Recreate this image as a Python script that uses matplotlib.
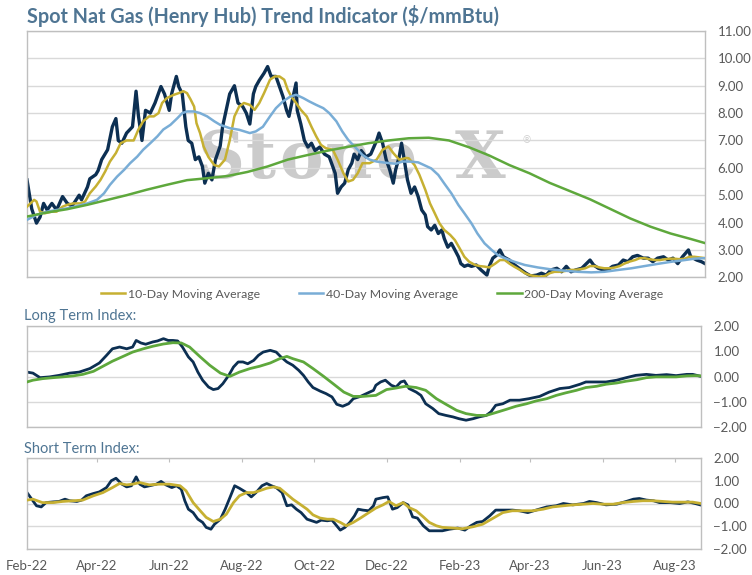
import matplotlib
matplotlib.use("Agg")
import matplotlib.pyplot as plt
import matplotlib.dates as mdates
from matplotlib.ticker import StrMethodFormatter, MultipleLocator
import pandas as pd

START = pd.Timestamp("2022-02-01")

# ---- spot price (day offset from 1 Feb 2022, $/mmBtu) ----
spot_day = [0, 4, 8, 11, 14, 17, 21, 25, 30, 34, 38, 44, 46, 51, 53, 58, 60, 63, 68, 72,
            75, 77, 80, 84, 89, 92, 94, 97, 100, 104, 108, 113, 116, 120, 122, 126, 128, 131, 134, 136,
            139, 142, 145, 148, 150, 153, 156, 159, 163, 165, 168, 171, 175, 178, 182, 185, 188, 191, 193, 196,
            200, 203, 206, 210, 213, 216, 219, 221, 224, 227, 228, 231, 234, 237, 240, 243, 247, 251, 255, 260,
            262, 265, 268, 271, 274, 276, 279, 282, 286, 290, 295, 297, 300, 303, 306, 309, 311, 314, 316, 321,
            324, 327, 330, 333, 336, 338, 341, 344, 347, 350, 352, 355, 358, 361, 364, 366, 369, 372, 375, 379,
            383, 388, 390, 393, 396, 399, 402, 404, 407, 410, 413, 417, 421, 425, 430, 434, 438, 442, 447, 451,
            455, 459, 463, 468, 472, 475, 478, 482, 486, 490, 494, 499, 503, 507, 511, 515, 520, 524, 528, 532,
            537, 541, 545, 549, 553, 558, 560, 565, 569, 572]
spot_val = [5.56, 4.5, 3.98, 4.2, 4.7, 4.46, 4.7, 4.46, 4.95, 4.7, 4.6, 5.0, 4.83, 5.3, 5.6, 5.75, 5.9, 6.3, 6.66, 7.5,
            7.8, 7.0, 6.9, 7.27, 7.5, 8.8, 7.9, 7.0, 8.1, 8.0, 8.37, 8.97, 8.7, 8.1, 8.7, 9.34, 8.97, 8.7, 7.5, 7.0,
            6.9, 6.3, 6.4, 6.05, 5.44, 5.8, 5.56, 6.3, 6.8, 7.5, 8.1, 8.7, 9.0, 8.37, 8.24, 8.0, 7.6, 8.7, 8.97, 9.2,
            9.46, 9.7, 9.34, 9.34, 8.97, 8.6, 8.1, 7.88, 8.5, 9.1, 8.1, 7.6, 7.0, 6.76, 6.9, 6.63, 6.76, 6.5, 6.4, 5.8,
            5.07, 5.3, 5.44, 5.93, 6.17, 6.5, 6.3, 6.63, 6.4, 6.5, 7.0, 7.27, 6.9, 6.3, 5.93, 5.44, 5.93, 6.4, 6.9, 5.56,
            5.07, 5.3, 4.95, 4.46, 4.28, 3.85, 3.73, 3.9, 3.6, 3.73, 3.42, 3.1, 3.24, 3.0, 2.75, 2.5, 2.4, 2.45, 2.4, 2.45,
            2.27, 2.08, 2.4, 2.7, 2.8, 3.0, 2.75, 2.7, 2.63, 2.5, 2.4, 2.27, 2.15, 2.05, 2.08, 2.15, 2.08, 2.27, 2.33, 2.2,
            2.4, 2.2, 2.27, 2.33, 2.5, 2.63, 2.45, 2.33, 2.27, 2.27, 2.4, 2.45, 2.63, 2.57, 2.75, 2.8, 2.7, 2.7, 2.57, 2.7,
            2.75, 2.63, 2.7, 2.5, 2.75, 3.0, 2.75, 2.63, 2.57, 2.5]

# ---- 10-day moving average ----
ma10_day = [0, 6, 8, 11, 15, 21, 25, 30, 34, 39, 45, 49, 53, 58, 62, 66, 70, 75, 79, 84,
            90, 94, 98, 103, 107, 111, 114, 118, 124, 128, 132, 135, 138, 141, 143, 146, 149, 153, 158, 162,
            167, 171, 175, 179, 183, 188, 192, 196, 200, 205, 209, 213, 217, 220, 223, 227, 231, 236, 240, 244,
            248, 252, 258, 262, 267, 271, 275, 279, 283, 289, 295, 300, 305, 309, 314, 320, 322, 327, 331, 336,
            340, 344, 348, 352, 357, 361, 365, 369, 373, 378, 382, 386, 390, 395, 399, 403, 407, 411, 416, 420,
            424, 428, 433, 437, 441, 445, 449, 454, 458, 462, 466, 471, 475, 479, 483, 487, 492, 496, 500, 504,
            508, 513, 517, 521, 525, 530, 534, 538, 542, 546, 551, 555, 559, 563, 568, 572]
ma10_val = [4.58, 4.83, 4.77, 4.4, 4.34, 4.4, 4.4, 4.58, 4.65, 4.7, 4.7, 4.77, 5.07, 5.32, 5.56, 5.87, 6.23, 6.54, 6.9, 7.0,
            7.0, 7.4, 7.7, 7.88, 7.88, 8.0, 8.37, 8.55, 8.67, 8.73, 8.8, 8.73, 8.5, 8.24, 7.63, 7.27, 6.78, 6.4, 6.1, 6.05,
            6.3, 7.0, 7.88, 8.24, 8.37, 8.3, 8.12, 8.37, 8.73, 9.22, 9.34, 9.34, 9.22, 8.85, 8.6, 8.37, 8.12, 7.88, 7.5, 7.15,
            6.84, 6.72, 6.66, 6.3, 5.8, 5.5, 5.56, 5.8, 6.17, 6.17, 6.3, 6.66, 6.78, 6.54, 6.3, 6.36, 6.35, 6.1, 5.75, 5.2,
            4.7, 4.34, 3.97, 3.73, 3.55, 3.36, 3.06, 2.75, 2.57, 2.45, 2.41, 2.39, 2.36, 2.5, 2.63, 2.63, 2.5, 2.39, 2.27, 2.15,
            2.08, 2.05, 2.02, 2.05, 2.15, 2.2, 2.2, 2.23, 2.27, 2.27, 2.29, 2.33, 2.41, 2.41, 2.36, 2.33, 2.33, 2.36, 2.41, 2.5,
            2.57, 2.63, 2.7, 2.7, 2.66, 2.63, 2.63, 2.66, 2.68, 2.68, 2.66, 2.68, 2.75, 2.75, 2.72, 2.7]

# ---- 40-day moving average ----
ma40_day = [0, 8, 17, 25, 34, 42, 51, 59, 65, 70, 76, 82, 87, 93, 98, 104, 110, 115, 121, 127,
            131, 135, 141, 146, 152, 158, 163, 171, 179, 188, 193, 199, 205, 210, 216, 222, 227, 233, 238, 244,
            250, 255, 261, 266, 271, 275, 279, 283, 289, 295, 300, 306, 311, 317, 323, 330, 341, 347, 352, 358,
            364, 369, 375, 380, 386, 392, 397, 403, 411, 420, 431, 442, 454, 465, 476, 487, 499, 510, 521, 532,
            544, 555, 563, 572]
ma40_val = [4.1, 4.28, 4.4, 4.46, 4.52, 4.6, 4.7, 4.83, 5.07, 5.38, 5.68, 5.93, 6.17, 6.41, 6.66, 6.9, 7.15, 7.4, 7.57, 7.82,
            8.0, 8.06, 8.06, 8.0, 7.88, 7.7, 7.57, 7.45, 7.39, 7.27, 7.33, 7.5, 7.88, 8.18, 8.43, 8.6, 8.67, 8.55, 8.43, 8.3,
            8.18, 8.0, 7.7, 7.33, 7.02, 6.84, 6.66, 6.47, 6.3, 6.23, 6.2, 6.17, 6.15, 6.23, 6.23, 6.2, 5.98, 5.74, 5.43, 5.07,
            4.64, 4.34, 3.97, 3.6, 3.24, 3.0, 2.82, 2.7, 2.57, 2.45, 2.36, 2.29, 2.24, 2.2, 2.18, 2.2, 2.27, 2.33, 2.41, 2.49,
            2.57, 2.63, 2.68, 2.7]

# ---- 200-day moving average ----
ma200_day = [0, 17, 34, 51, 68, 84, 101, 118, 135, 152, 169, 186, 203, 220, 237, 254, 271, 288, 305, 322,
             339, 356, 373, 390, 407, 424, 441, 458, 475, 492, 509, 526, 543, 560, 572]
ma200_val = [4.22, 4.37, 4.49, 4.65, 4.83, 5.0, 5.2, 5.38, 5.55, 5.62, 5.7, 5.85, 6.05, 6.3, 6.47, 6.63, 6.77, 6.9, 7.0, 7.08,
             7.1, 7.0, 6.75, 6.45, 6.1, 5.8, 5.45, 5.15, 4.85, 4.5, 4.15, 3.85, 3.6, 3.4, 3.25]

# ---- long term index ----
lt_day = [0, 5, 11, 19, 27, 36, 44, 53, 61, 67, 72, 78, 84, 89, 92, 96, 100, 106, 110, 115,
          119, 123, 127, 131, 136, 140, 144, 148, 153, 157, 161, 165, 170, 174, 178, 182, 186, 191, 195, 199,
          205, 210, 214, 219, 224, 229, 233, 237, 241, 247, 252, 257, 261, 266, 271, 275, 281, 286, 292, 294,
          298, 302, 307, 311, 315, 318, 322, 328, 332, 336, 342, 347, 353, 359, 364, 370, 376, 381, 387, 391,
          395, 401, 407, 415, 423, 432, 440, 449, 457, 466, 471, 480, 488, 497, 505, 513, 522, 530, 539, 547,
          556, 561, 568]
lt_val = [0.18, 0.14, -0.04, -0.01, 0.05, 0.14, 0.18, 0.32, 0.54, 0.84, 1.1, 1.17, 1.1, 1.17, 1.43, 1.33, 1.28, 1.37, 1.41, 1.5,
          1.43, 1.43, 1.41, 1.17, 0.78, 0.58, 0.18, -0.14, -0.41, -0.51, -0.47, -0.28, 0.05, 0.38, 0.58, 0.58, 0.51, 0.64, 0.84, 0.97,
          1.04, 0.97, 0.78, 0.58, 0.45, 0.25, 0.05, -0.21, -0.43, -0.57, -0.67, -0.8, -1.09, -1.17, -1.07, -0.87, -0.78, -0.67, -0.54, -0.34,
          -0.21, -0.14, -0.34, -0.41, -0.21, -0.17, -0.47, -0.61, -0.74, -1.07, -1.26, -1.46, -1.53, -1.59, -1.66, -1.72, -1.66, -1.59, -1.53, -1.39,
          -1.13, -1.07, -0.93, -0.93, -0.87, -0.78, -0.61, -0.47, -0.43, -0.3, -0.21, -0.21, -0.21, -0.14, -0.04, 0.05, 0.09, 0.05, 0.08, 0.04,
          0.09, 0.09, 0.01]
lt_sig_day = [0, 5, 13, 22, 30, 39, 47, 56, 64, 72, 81, 89, 98, 106, 115, 123, 130, 137, 146, 154,
              163, 171, 179, 188, 196, 205, 213, 219, 224, 233, 241, 250, 258, 267, 275, 283, 294, 303, 311, 319,
              328, 336, 345, 353, 362, 370, 379, 387, 395, 404, 412, 421, 429, 438, 446, 454, 463, 471, 480, 488,
              497, 505, 514, 522, 530, 539, 547, 556, 563, 568]
lt_sig_val = [-0.21, -0.14, -0.08, -0.04, -0.01, 0.03, 0.09, 0.21, 0.41, 0.61, 0.8, 0.97, 1.1, 1.2, 1.29, 1.34, 1.33, 1.17, 0.78, 0.45,
              0.14, 0.01, 0.18, 0.32, 0.41, 0.54, 0.71, 0.8, 0.71, 0.58, 0.32, 0.01, -0.28, -0.61, -0.78, -0.78, -0.74, -0.51, -0.45, -0.38,
              -0.43, -0.54, -0.87, -1.09, -1.33, -1.46, -1.53, -1.53, -1.42, -1.29, -1.17, -1.07, -0.96, -0.87, -0.74, -0.64, -0.54, -0.43, -0.38, -0.3,
              -0.25, -0.18, -0.12, -0.04, -0.01, -0.01, -0.01, 0.03, 0.04, 0.03]

# ---- short term index ----
st_day = [0, 4, 8, 12, 16, 22, 27, 32, 36, 42, 46, 50, 56, 61, 67, 71, 75, 80, 84, 88,
          92, 95, 99, 105, 109, 113, 117, 122, 126, 130, 133, 136, 140, 144, 148, 151, 155, 158, 163, 167,
          171, 175, 179, 185, 189, 193, 198, 202, 206, 210, 215, 219, 223, 227, 231, 236, 240, 244, 248, 253,
          257, 261, 264, 268, 272, 276, 279, 283, 288, 292, 294, 300, 304, 308, 312, 317, 321, 325, 329, 334,
          339, 345, 350, 356, 363, 369, 374, 379, 384, 390, 395, 401, 409, 415, 422, 429, 438, 446, 452, 460,
          469, 474, 480, 488, 497, 505, 511, 516, 522, 528, 533, 542, 550, 557, 563, 568]
st_val = [0.48, 0.19, -0.1, -0.15, 0.04, 0.07, 0.09, 0.19, 0.12, 0.09, 0.15, 0.34, 0.44, 0.51, 0.7, 1.0, 1.11, 0.85, 0.73, 0.78,
          1.17, 0.85, 0.73, 0.8, 0.85, 0.97, 0.82, 0.7, 0.78, 0.63, 0.12, -0.25, -0.4, -0.69, -0.83, -1.05, -1.13, -0.91, -0.69, -0.25,
          0.26, 0.78, 0.67, 0.48, 0.29, 0.48, 0.78, 0.88, 0.78, 0.7, 0.48, -0.1, -0.06, -0.25, -0.4, -0.69, -0.76, -0.83, -0.73, -0.76,
          -0.73, -0.98, -1.17, -1.05, -0.83, -0.54, -0.25, -0.29, -0.32, -0.1, 0.19, 0.26, 0.29, -0.25, -0.18, 0.04, -0.06, -0.59, -0.64, -0.98,
          -1.2, -1.2, -1.2, -1.13, -1.08, -1.17, -0.98, -0.83, -0.79, -0.54, -0.29, -0.29, -0.29, -0.32, -0.4, -0.29, -0.15, -0.1, 0.0, -0.06,
          0.0, 0.09, 0.04, -0.06, -0.03, 0.09, 0.19, 0.22, 0.15, 0.12, 0.04, 0.04, 0.0, 0.07, 0.0, -0.07]
st_sig_day = [0, 5, 13, 22, 30, 39, 47, 56, 64, 72, 78, 84, 89, 95, 103, 112, 120, 129, 134, 140,
              146, 151, 157, 163, 168, 174, 179, 185, 191, 196, 202, 208, 213, 219, 224, 230, 236, 241, 247, 253,
              258, 264, 269, 275, 281, 286, 294, 300, 305, 311, 317, 322, 328, 334, 339, 345, 350, 359, 367, 376,
              384, 393, 401, 409, 418, 426, 435, 443, 452, 460, 469, 477, 485, 494, 502, 511, 519, 528, 536, 544,
              553, 561, 568]
st_sig_val = [0.15, 0.19, 0.04, 0.04, 0.09, 0.12, 0.15, 0.34, 0.48, 0.7, 0.88, 0.82, 0.85, 0.92, 0.82, 0.85, 0.85, 0.78, 0.56, 0.04,
              -0.32, -0.61, -0.79, -0.69, -0.47, 0.04, 0.34, 0.48, 0.48, 0.56, 0.67, 0.73, 0.67, 0.41, 0.19, -0.03, -0.25, -0.5, -0.64, -0.69,
              -0.69, -0.83, -0.98, -0.83, -0.64, -0.47, -0.2, -0.06, 0.09, -0.1, 0.04, -0.18, -0.32, -0.59, -0.83, -0.98, -1.05, -1.08, -1.11, -1.02,
              -0.91, -0.64, -0.4, -0.32, -0.32, -0.32, -0.25, -0.15, -0.1, -0.06, -0.03, 0.0, -0.03, -0.03, 0.04, 0.09, 0.12, 0.12, 0.09, 0.06,
              0.06, 0.06, 0.0]

legend_labels = ["10-Day Moving Average", "40-Day Moving Average", "200-Day Moving Average"]
title = "Spot Nat Gas (Henry Hub) Trend Indicator ($/mmBtu)"

NAVY = "#0c2f52"
GOLD = "#c6b032"
BLUE = "#79add6"
GREEN = "#5ea83c"
GRID = "#d9d9d9"
FRAME = "#bfbfbf"
TXT = "#595959"
HEAD = "#4f7593"

plt.rcParams["font.family"] = ["Lato", "DejaVu Sans"]


def dates(days):
    return START + pd.to_timedelta(days, unit="D")


W, H = 752, 575
fig = plt.figure(figsize=(W / 100, H / 100), dpi=100)


def box(l, t, r, b):
    return [l / W, 1 - b / H, (r - l) / W, (b - t) / H]


def style(ax, lo, hi, step, end_day):
    ax.set_ylim(lo, hi)
    ax.set_xlim(START, dates(end_day))
    ax.yaxis.set_major_locator(MultipleLocator(step))
    ax.yaxis.set_major_formatter(StrMethodFormatter("{x:.2f}"))
    ax.yaxis.tick_right()
    ax.tick_params(axis="y", length=0, pad=9, labelsize=9.5, labelcolor=TXT)
    ax.grid(axis="y", color=GRID, linewidth=1)
    ax.set_axisbelow(True)
    for s in ax.spines.values():
        s.set_color(FRAME)
        s.set_linewidth(1)
    ax.xaxis.set_major_locator(mdates.MonthLocator(bymonth=[2, 4, 6, 8, 10, 12]))


ax1 = fig.add_axes(box(27, 31, 705, 277.3))
ax2 = fig.add_axes(box(27, 326, 701, 427.3))
ax3 = fig.add_axes(box(27, 458, 701, 549))

style(ax1, 2, 11, 1, 572)
style(ax2, -2, 2, 1, 568)
style(ax3, -2, 2, 1, 568)
ax1.tick_params(axis="x", length=0, labelbottom=False)
ax2.tick_params(axis="x", length=0, labelbottom=False)
ax3.xaxis.set_major_formatter(mdates.DateFormatter("%b-%y"))
ax3.tick_params(axis="x", which="major", bottom=False, top=True, direction="in",
                length=3, color=FRAME, labelsize=9.5, labelcolor=TXT, pad=8)
ax3.tick_params(axis="x", labelbottom=True, labeltop=False)

# watermark
for ch, fx in zip("StoneX", [0.287, 0.344, 0.405, 0.474, 0.545, 0.668]):
    ax1.text(fx, 0.403, ch, transform=ax1.transAxes, ha="center", va="baseline",
             fontsize=47, family="DejaVu Serif", fontweight="bold", color="#cbcbcb", zorder=0.5)
ax1.text(0.737, 0.555, "\u00ae", transform=ax1.transAxes, ha="center", va="center",
         fontsize=7, color="#cbcbcb", zorder=0.5)

ax1.plot(dates(spot_day), spot_val, color=NAVY, lw=2.4, zorder=2)
l10, = ax1.plot(dates(ma10_day), ma10_val, color=GOLD, lw=1.8, zorder=3)
l40, = ax1.plot(dates(ma40_day), ma40_val, color=BLUE, lw=1.8, zorder=3)
l200, = ax1.plot(dates(ma200_day), ma200_val, color=GREEN, lw=1.8, zorder=3)

fig.legend([l10, l40, l200], legend_labels, loc="center", ncol=3, frameon=False,
           bbox_to_anchor=(382 / W, 1 - 294 / H), fontsize=8.8, labelcolor=TXT,
           handlelength=2.0, handletextpad=0.2, columnspacing=3.2)

ax2.plot(dates(lt_day), lt_val, color=NAVY, lw=2.0, zorder=2)
ax2.plot(dates(lt_sig_day), lt_sig_val, color=GREEN, lw=2.0, zorder=3)

ax3.plot(dates(st_day), st_val, color=NAVY, lw=2.0, zorder=2)
ax3.plot(dates(st_sig_day), st_sig_val, color=GOLD, lw=2.0, zorder=3)

fig.text(27 / W, 1 - 16 / H, title, ha="left", va="center", fontsize=14.2,
         fontweight="bold", color=HEAD)
fig.text(24 / W, 1 - 316 / H, "Long Term Index:", ha="left", va="center",
         fontsize=10.5, color=HEAD)
fig.text(24 / W, 1 - 449 / H, "Short Term Index:", ha="left", va="center",
         fontsize=10.5, color=HEAD)

fig.savefig("out.png", dpi=100)
